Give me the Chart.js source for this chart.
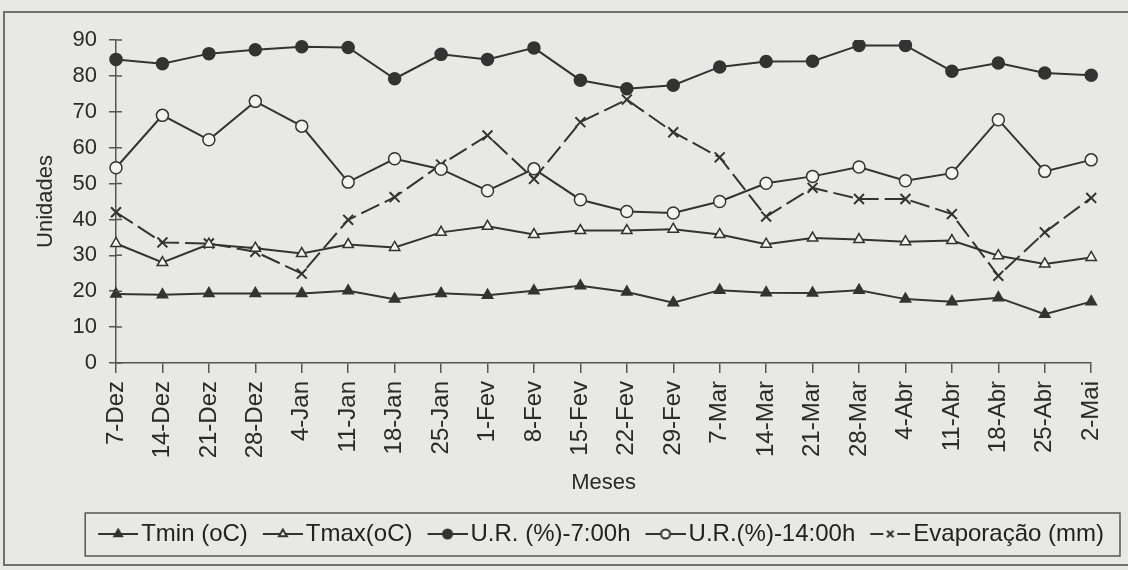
<!DOCTYPE html>
<html>
<head>
<meta charset="utf-8">
<script src="https://cdn.jsdelivr.net/npm/chart.js@4.4.1/dist/chart.umd.min.js"></script>
<style>
  html, body { margin: 0; padding: 0; background: #e8e8e6; overflow: hidden; }
  #frame { position: absolute; left: 3px; top: 11px; width: 1130px; height: 555px;
           border: 2px solid #707070; box-sizing: border-box; }
  #wrap { position: absolute; left: 0; top: 0; width: 1128px; height: 570px; }
</style>
</head>
<body>
<div id="frame"></div>
<div id="wrap"><canvas id="chart"></canvas></div>
<script>
// Weekly readings, Dec -> May
const weeks = ["7-Dez", "14-Dez", "21-Dez", "28-Dez", "4-Jan", "11-Jan", "18-Jan", "25-Jan",
  "1-Fev", "8-Fev", "15-Fev", "22-Fev", "29-Fev", "7-Mar", "14-Mar", "21-Mar", "28-Mar",
  "4-Abr", "11-Abr", "18-Abr", "25-Abr", "2-Mai"];

const tmin = [19.2, 19.0, 19.4, 19.4, 19.4, 20.1, 17.8, 19.4, 18.9, 20.1, 21.5, 19.8,
  16.8, 20.3, 19.6, 19.5, 20.3, 17.8, 17.1, 18.2, 13.6, 17.1];
const tmax = [33.3, 28.0, 33.1, 32.0, 30.5, 33.0, 32.2, 36.4, 38.1, 35.8, 36.9, 36.9,
  37.3, 35.8, 33.1, 34.8, 34.4, 33.8, 34.1, 29.9, 27.6, 29.4];
const ur7 = [84.6, 83.4, 86.2, 87.3, 88.1, 87.9, 79.2, 86.0, 84.6, 87.8, 78.8, 76.4,
  77.4, 82.5, 84.0, 84.1, 88.5, 88.5, 81.3, 83.6, 80.8, 80.2];
const ur14 = [54.4, 69.0, 62.2, 72.9, 66.0, 50.4, 56.9, 54.0, 48.0, 54.1, 45.5, 42.2,
  41.8, 45.0, 50.1, 52.0, 54.6, 50.8, 52.9, 67.8, 53.4, 56.6];
const evap = [42.0, 33.6, 33.3, 31.0, 24.9, 39.9, 46.2, 55.3, 63.4, 51.3, 67.1, 73.4,
  64.3, 57.3, 40.8, 48.8, 45.7, 45.7, 41.5, 24.3, 36.4, 46.0];

const yTicks = { min: 0, max: 90, step: 10 };

const INK = "#333333";
const PAPER = "#f3f3f1";
const LEGEND_FONT = 24;

Chart.defaults.font.family = '"Liberation Sans", Arial, sans-serif';
Chart.defaults.font.size = 22;
Chart.defaults.color = "#2a2a2a";

// "—marker—" swatch for the legend. Chart.js centres the image on the
// 40px point-style box, so the canvas is padded on the left to push the
// swatch right up against the label text.
function legendIcon(style, fill, dashed) {
  const c = document.createElement("canvas");
  c.width = 58; c.height = 16;
  const g = c.getContext("2d");
  g.strokeStyle = INK;
  g.lineWidth = 2;
  g.beginPath();
  if (dashed) {
    g.moveTo(18, 8); g.lineTo(31, 8);
    g.moveTo(45, 8); g.lineTo(58, 8);
  } else {
    g.moveTo(18, 8); g.lineTo(58, 8);
  }
  g.stroke();
  g.fillStyle = fill;
  Chart.helpers.drawPoint(g, { pointStyle: style, radius: 4.5, borderWidth: 1.5 }, 38, 8);
  return c;
}

function series(label, data, style, fill, dashed) {
  return {
    label,
    data,
    borderColor: INK,
    borderWidth: 2,
    borderDash: dashed ? [20, 6] : [],
    pointStyle: style,
    pointRadius: style === "crossRot" ? 7 : 6,
    pointBackgroundColor: fill,
    pointBorderColor: INK,
    pointBorderWidth: style === "crossRot" ? 2 : 1.5,
    tension: 0,
    icon: legendIcon(style, fill, dashed),
  };
}

const datasets = [
  series("Tmin (oC)", tmin, "triangle", INK, false),
  series("Tmax(oC)", tmax, "triangle", PAPER, false),
  series("U.R. (%)-7:00h", ur7, "circle", INK, false),
  series("U.R.(%)-14:00h", ur14, "circle", PAPER, false),
  series("Evaporação (mm)", evap, "crossRot", INK, true),
];

// box round the legend + short ticks on the inner side of the y axis
const extras = {
  id: "extras",
  afterDraw(chart) {
    const ctx = chart.ctx;
    const boxes = chart.legend.legendHitBoxes;
    ctx.save();
    ctx.strokeStyle = "#555";
    ctx.lineWidth = 1.5;
    if (boxes && boxes.length) {
      const l = Math.min(...boxes.map((b) => b.left)) - 4;
      const r = Math.max(...boxes.map((b) => b.left + b.width)) + 16;
      const cy = boxes[0].top + boxes[0].height / 2;
      ctx.strokeRect(l, cy - 21, r - l, 43);
    }
    const y = chart.scales.y;
    const x0 = chart.chartArea.left;
    ctx.beginPath();
    y.ticks.forEach((t) => {
      const py = y.getPixelForValue(t.value);
      ctx.moveTo(x0, py); ctx.lineTo(x0 + 6, py);
    });
    ctx.stroke();
    ctx.restore();
  },
};

new Chart(document.getElementById("chart"), {
  type: "line",
  data: { labels: weeks, datasets },
  plugins: [extras],
  options: {
    responsive: true,
    maintainAspectRatio: false,
    animation: false,
    layout: { padding: { top: 40, right: 18, bottom: 14, left: 0 } },
    plugins: {
      tooltip: { enabled: false },
      legend: {
        position: "bottom",
        align: "end",
        labels: {
          usePointStyle: true,
          pointStyleWidth: 40,
          padding: 6,
          font: { size: LEGEND_FONT },
          color: "#222",
          generateLabels: (chart) => chart.data.datasets.map((ds, i) => ({
            text: ds.label,
            pointStyle: ds.icon,
            fillStyle: "transparent",
            strokeStyle: "transparent",
            lineWidth: 0,
            fontColor: "#222",
            hidden: false,
            datasetIndex: i,
          })),
        },
      },
    },
    scales: {
      x: {
        offset: false,
        afterFit: (s) => { s.height = 153; },
        grid: { drawOnChartArea: false, tickLength: 10, color: "#555", lineWidth: 1.5 },
        border: { color: "#555", width: 1.5 },
        ticks: { autoSkip: false, minRotation: 90, maxRotation: 90, padding: 8,
                 font: { size: 24 }, color: "#2a2a2a" },
        title: { display: true, text: "Meses", padding: { top: 0, bottom: 20 }, color: "#2a2a2a" },
      },
      y: {
        min: yTicks.min,
        max: yTicks.max,
        afterFit: (s) => { s.width = 116; },
        grid: { drawOnChartArea: false, tickLength: 7, color: "#555", lineWidth: 1.5 },
        border: { color: "#555", width: 1.5 },
        ticks: { stepSize: yTicks.step, padding: 12, color: "#2a2a2a" },
        title: { display: true, text: "Unidades", padding: { top: 33, bottom: 0 }, color: "#2a2a2a" },
      },
    },
  },
});
</script>
</body>
</html>
